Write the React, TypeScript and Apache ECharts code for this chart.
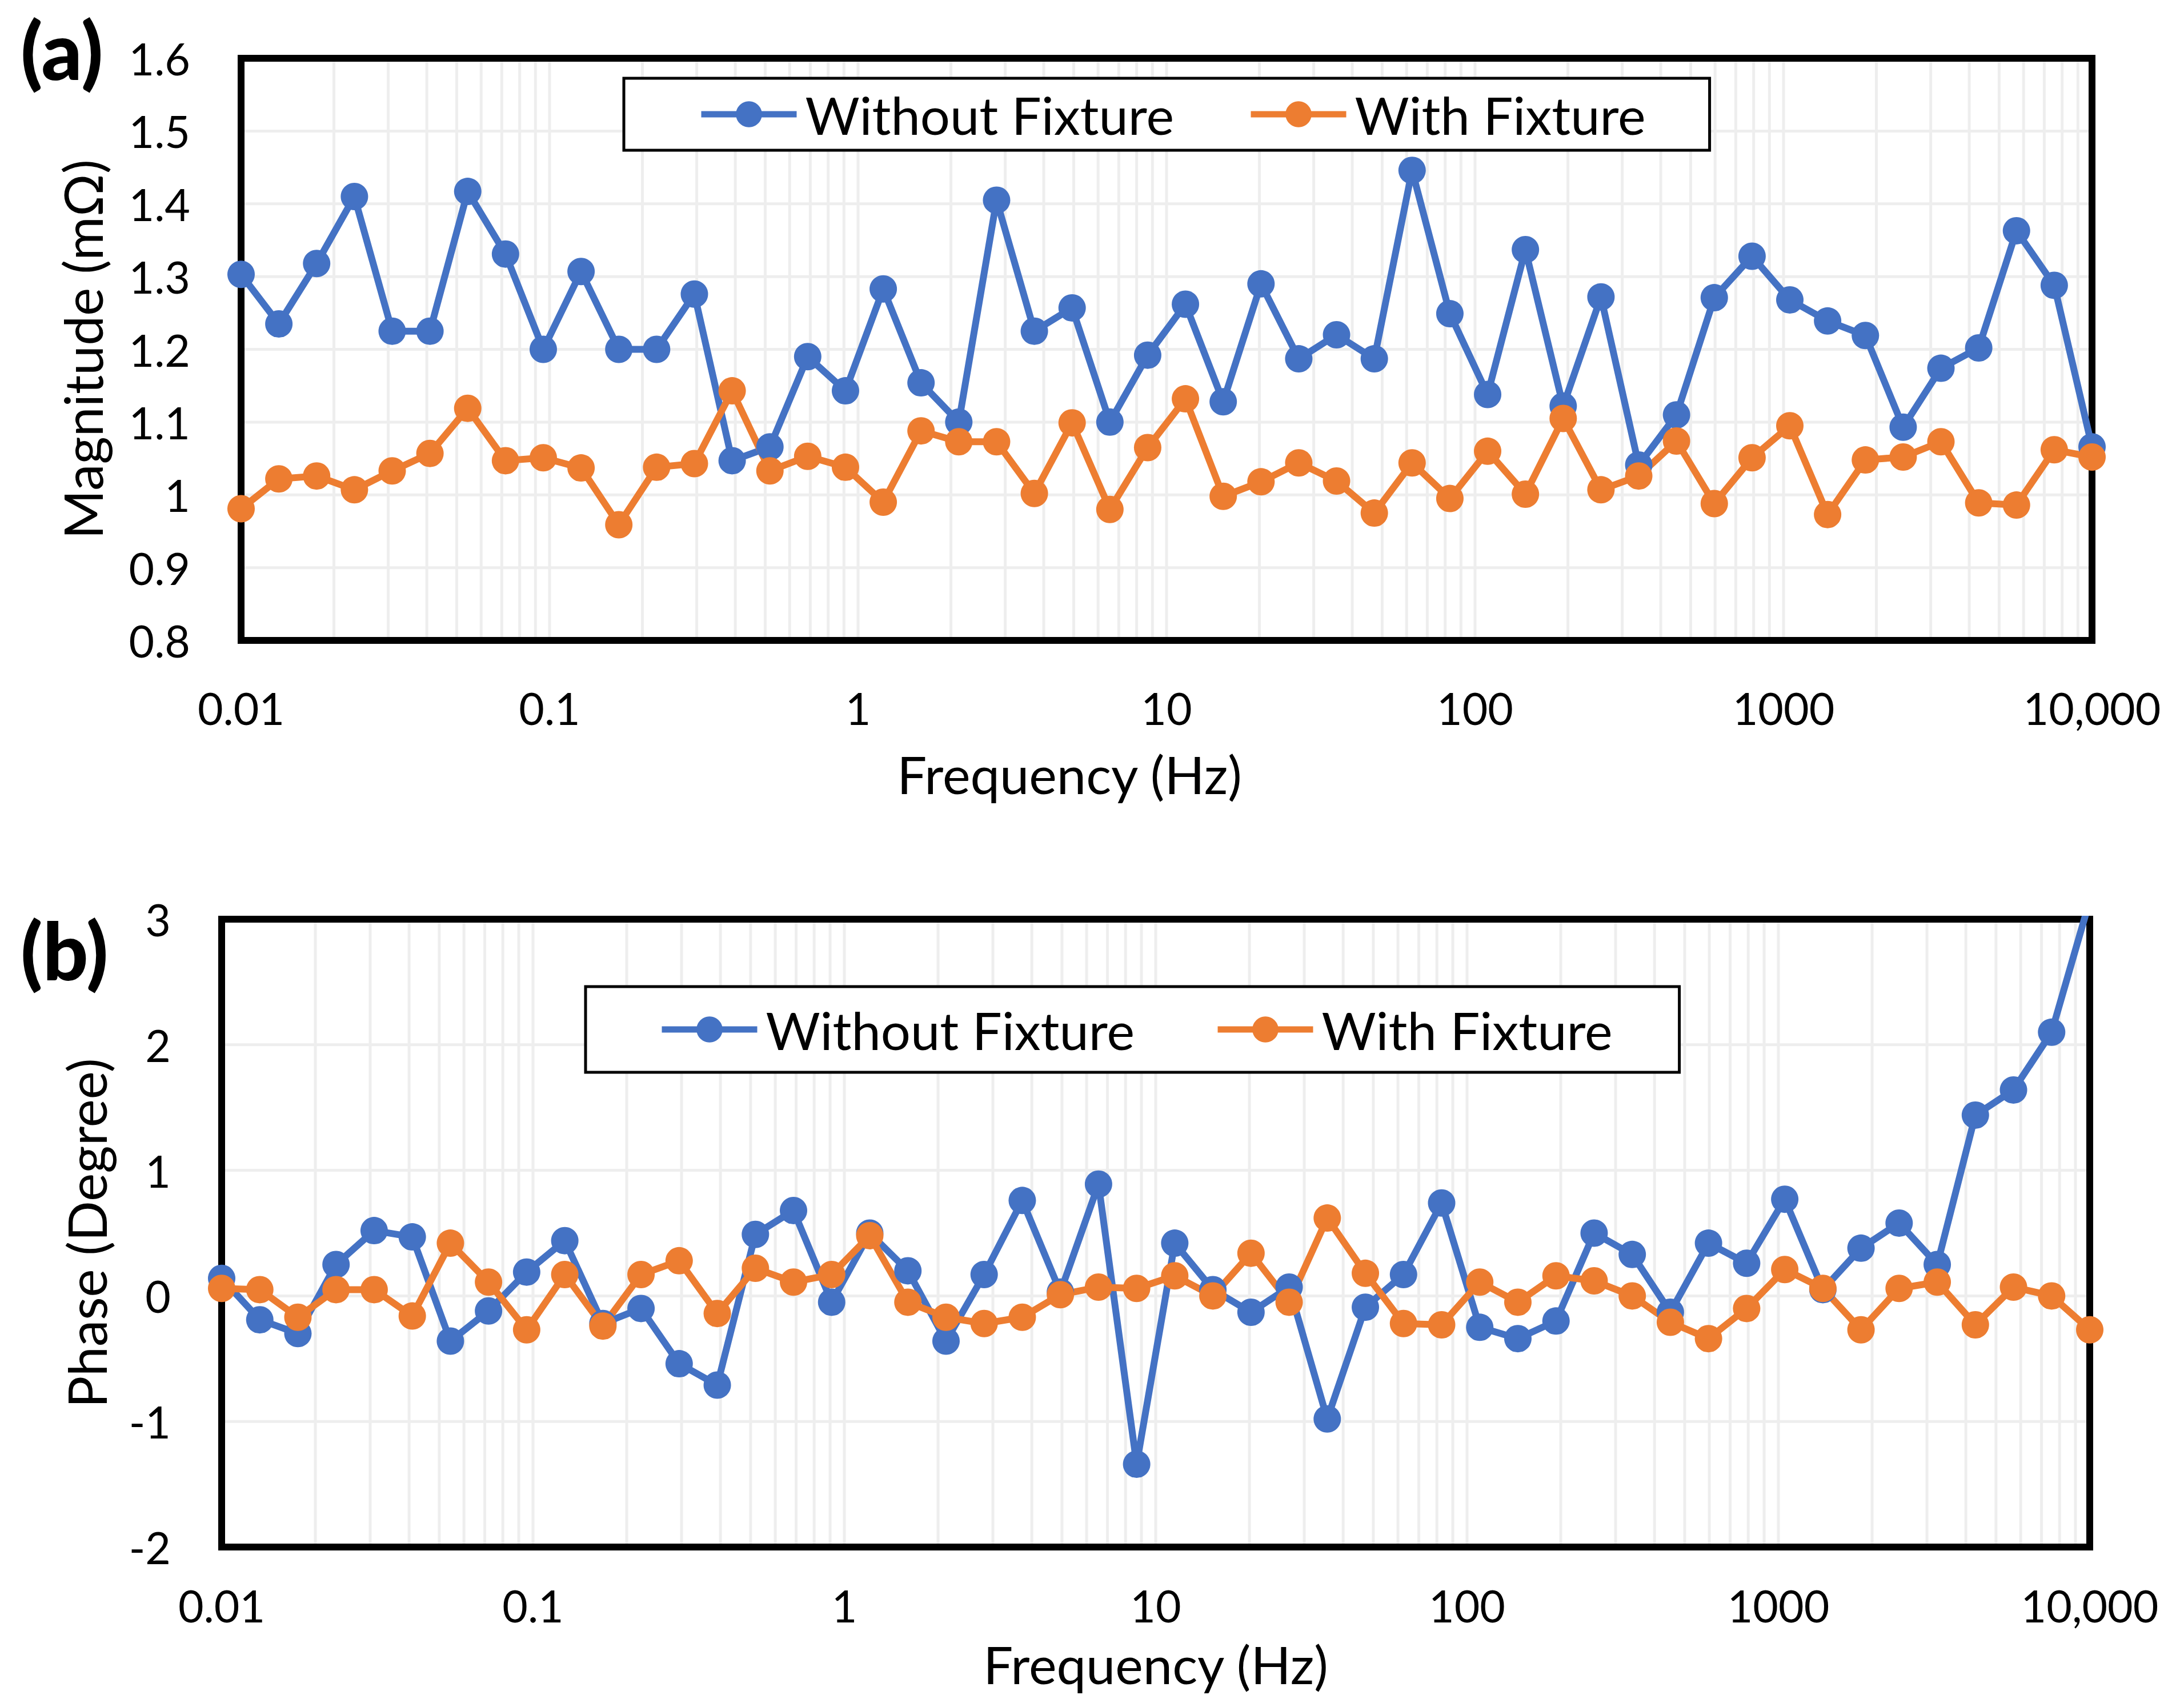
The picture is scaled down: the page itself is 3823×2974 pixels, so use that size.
import { useEffect, useRef } from 'react';
import * as echarts from 'echarts';

// Sweep frequencies (Hz), 50 points, log spaced
const FREQ = [
  0.01, 0.013257, 0.017575, 0.0233, 0.030888, 0.040949, 0.054287, 0.071969, 0.09541, 0.12649,
  0.16768, 0.2223, 0.29471, 0.3907, 0.51795, 0.68665, 0.91031, 1.2068, 1.5999, 2.121,
  2.8118, 3.7276, 4.9417, 6.5513, 8.6851, 11.514, 15.264, 20.236, 26.827, 35.565,
  47.149, 62.506, 82.864, 109.85, 145.63, 193.07, 255.95, 339.32, 449.84, 596.36,
  790.6, 1048.1, 1389.5, 1842.1, 2442.1, 3237.5, 4291.9, 5689.9, 7543.1, 10000,
];

// (a) magnitude, mOhm
const MAG_WITHOUT = [
  1.303, 1.235, 1.318, 1.41, 1.225, 1.225, 1.417, 1.331, 1.2, 1.307,
  1.2, 1.2, 1.276, 1.047, 1.066, 1.19, 1.143, 1.283, 1.154, 1.1,
  1.405, 1.225, 1.257, 1.1, 1.192, 1.262, 1.128, 1.29, 1.187, 1.22,
  1.187, 1.446, 1.249, 1.138, 1.337, 1.122, 1.272, 1.041, 1.11, 1.271,
  1.328, 1.268, 1.239, 1.219, 1.093, 1.174, 1.202, 1.363, 1.288, 1.066,
];
const MAG_WITH = [
  0.981, 1.022, 1.026, 1.007, 1.033, 1.057, 1.119, 1.047, 1.051, 1.037,
  0.959, 1.038, 1.043, 1.143, 1.033, 1.053, 1.038, 0.99, 1.088, 1.073,
  1.073, 1.002, 1.099, 0.98, 1.065, 1.132, 0.998, 1.018, 1.044, 1.019,
  0.975, 1.044, 0.995, 1.06, 1.001, 1.105, 1.007, 1.026, 1.074, 0.988,
  1.051, 1.095, 0.973, 1.048, 1.052, 1.073, 0.989, 0.986, 1.062, 1.052,
];

// (b) phase, degree
const PHASE_WITHOUT = [
  0.14, -0.19, -0.3, 0.25, 0.52, 0.47, -0.36, -0.12, 0.19, 0.44,
  -0.22, -0.1, -0.54, -0.71, 0.49, 0.68, -0.05, 0.5, 0.2, -0.36,
  0.17, 0.76, 0.03, 0.89, -1.34, 0.42, 0.05, -0.13, 0.07, -0.98,
  -0.09, 0.17, 0.74, -0.25, -0.34, -0.2, 0.5, 0.33, -0.13, 0.42,
  0.26, 0.77, 0.05, 0.38, 0.58, 0.25, 1.44, 1.64, 2.1, 3.15,
];
const PHASE_WITH = [
  0.06, 0.05, -0.17, 0.05, 0.05, -0.16, 0.42, 0.11, -0.27, 0.17,
  -0.24, 0.17, 0.28, -0.14, 0.22, 0.11, 0.17, 0.48, -0.05, -0.17,
  -0.22, -0.17, 0.01, 0.07, 0.06, 0.16, 0.0, 0.34, -0.05, 0.62,
  0.18, -0.22, -0.23, 0.11, -0.05, 0.16, 0.12, 0.0, -0.21, -0.34,
  -0.1, 0.21, 0.06, -0.27, 0.06, 0.11, -0.23, 0.07, 0.0, -0.27,
];

const SERIES_NAMES = ['Without Fixture', 'With Fixture'];
const X_TICKS = ['0.01', '0.1', '1', '10', '100', '1000', '10,000'];
const DECADES = [0.01, 0.1, 1, 10, 100, 1000];
const MULTS = [1, 2, 3, 4, 5, 6, 7, 8, 9];
const MAG_GRID = [0.9, 1, 1.1, 1.2, 1.3, 1.4, 1.5];
const PHASE_GRID = [-1, 0, 1, 2];

const BLUE = '#4472C4';
const ORANGE = '#ED7D31';
const GRID_GRAY = '#eeeeee';
const FONT = 'Lato, "Open Sans", sans-serif';

function gridLineData(yMin: number, yLines: number[]) {
  const rows: number[][] = [];
  DECADES.forEach((d) => {
    MULTS.forEach((m) => {
      const f = d * m;
      if (f > 0.0100001) rows.push([f, yMin, 0]);
    });
  });
  yLines.forEach((y) => rows.push([1, y, 1]));
  return rows;
}

function renderGridLine(params: any, api: any) {
  const cs = params.coordSys;
  const inset = 6;
  const p = api.coord([api.value(0), api.value(1)]);
  if (api.value(2) === 0) {
    return {
      type: 'line',
      silent: true,
      shape: { x1: p[0], y1: cs.y + inset, x2: p[0], y2: cs.y + cs.height - inset },
      style: { stroke: GRID_GRAY, lineWidth: 5 },
    };
  }
  return {
    type: 'line',
    silent: true,
    shape: { x1: cs.x + inset, y1: p[1], x2: cs.x + cs.width - inset, y2: p[1] },
    style: { stroke: GRID_GRAY, lineWidth: 5 },
  };
}

function lineSeries(name: string, gridIdx: number, ys: number[], color: string, clip: boolean) {
  return {
    name,
    type: 'line',
    xAxisIndex: gridIdx,
    yAxisIndex: gridIdx,
    data: FREQ.map((f, i) => [f, ys[i]]),
    symbol: 'circle',
    symbolSize: 48,
    clip,
    z: 3,
    lineStyle: { color, width: 12 },
    itemStyle: { color },
  };
}

function xAxis(gridIndex: number, margin: number, nameGap: number, namePad: number[]) {
  return {
    gridIndex,
    type: 'log',
    logBase: 10,
    min: 0.01,
    max: 10000,
    splitNumber: 6,
    z: 0,
    axisLine: { show: false },
    axisTick: { show: false },
    splitLine: { show: false },
    axisLabel: {
      margin,
      fontSize: 77,
      lineHeight: 64,
      color: '#000',
      fontFamily: FONT,
      formatter: (v: number) => X_TICKS[Math.round(Math.log10(v)) + 2] ?? '',
    },
    name: 'Frequency (Hz)',
    nameLocation: 'middle',
    nameGap,
    nameTextStyle: { fontSize: 92, lineHeight: 72, color: '#000', fontFamily: FONT, padding: namePad },
  };
}

function yAxis(gridIndex: number, min: number, max: number, interval: number, name: string, nameGap: number, fmt: (v: number) => string) {
  return {
    gridIndex,
    type: 'value',
    min,
    max,
    interval,
    z: 0,
    axisLine: { show: false },
    axisTick: { show: false },
    splitLine: { show: false },
    axisLabel: { margin: 89, fontSize: 77, color: '#000', fontFamily: FONT, formatter: fmt },
    name,
    nameLocation: 'middle',
    nameGap,
    nameTextStyle: { fontSize: 93, color: '#000', fontFamily: FONT },
  };
}

function legend(left: number, top: number, padding: number[], itemGap: number) {
  return {
    data: SERIES_NAMES,
    left,
    top,
    padding,
    itemGap,
    itemWidth: 167,
    itemHeight: 57,
    borderColor: '#000',
    borderWidth: 5,
    backgroundColor: '#fff',
    lineStyle: { width: 11 },
    textStyle: { fontSize: 92, lineHeight: 92, color: '#000', fontFamily: FONT, padding: [0, 0, 0, 10] },
  };
}

export default function App() {
  const ref = useRef<HTMLDivElement>(null);

  useEffect(() => {
    if (!ref.current) return;
    const chart = echarts.init(ref.current, undefined, { renderer: 'svg' });

    const frame = { show: true, z: 1, borderColor: '#000', borderWidth: 12, backgroundColor: 'transparent' };

    chart.setOption({
      animation: false,
      backgroundColor: '#fff',
      grid: [
        { ...frame, left: 422, top: 102, width: 3240, height: 1019 },
        { ...frame, left: 388, top: 1609, width: 3270, height: 1099 },
      ],
      xAxis: [xAxis(0, 86, 197, [0, 340, 0, 0]), xAxis(1, 70, 168, [0, 0, 0, 0])],
      yAxis: [
        yAxis(0, 0.8, 1.6, 0.1, 'Magnitude (mΩ)', 232, (v) => String(Math.round(v * 10) / 10)),
        yAxis(1, -2, 3, 1, 'Phase (Degree)', 191, (v) => String(Math.round(v))),
      ],
      legend: [legend(1092, 137, [17, 112, 17, 130], 129), legend(1025, 1727, [29, 117, 29, 128], 140)],
      graphic: [
        { type: 'text', left: 36, top: 16, style: { text: '(a)', font: `900 140px ${FONT}`, fill: '#000' } },
        { type: 'text', left: 36, top: 1592, style: { text: '(b)', font: `900 140px ${FONT}`, fill: '#000' } },
      ],
      series: [
        {
          name: 'grid-a',
          type: 'custom',
          xAxisIndex: 0,
          yAxisIndex: 0,
          z: 0,
          silent: true,
          renderItem: renderGridLine,
          data: gridLineData(0.8, MAG_GRID),
        },
        {
          name: 'grid-b',
          type: 'custom',
          xAxisIndex: 1,
          yAxisIndex: 1,
          z: 0,
          silent: true,
          renderItem: renderGridLine,
          data: gridLineData(-2, PHASE_GRID),
        },
        lineSeries(SERIES_NAMES[0], 0, MAG_WITHOUT, BLUE, false),
        lineSeries(SERIES_NAMES[1], 0, MAG_WITH, ORANGE, false),
        lineSeries(SERIES_NAMES[0], 1, PHASE_WITHOUT, BLUE, true),
        lineSeries(SERIES_NAMES[1], 1, PHASE_WITH, ORANGE, false),
      ],
    });

    return () => chart.dispose();
  }, []);

  return (
    <div
      ref={ref}
      style={{ position: 'absolute', left: 0, top: 0, width: 3823, height: 2974, background: '#fff' }}
    />
  );
}
